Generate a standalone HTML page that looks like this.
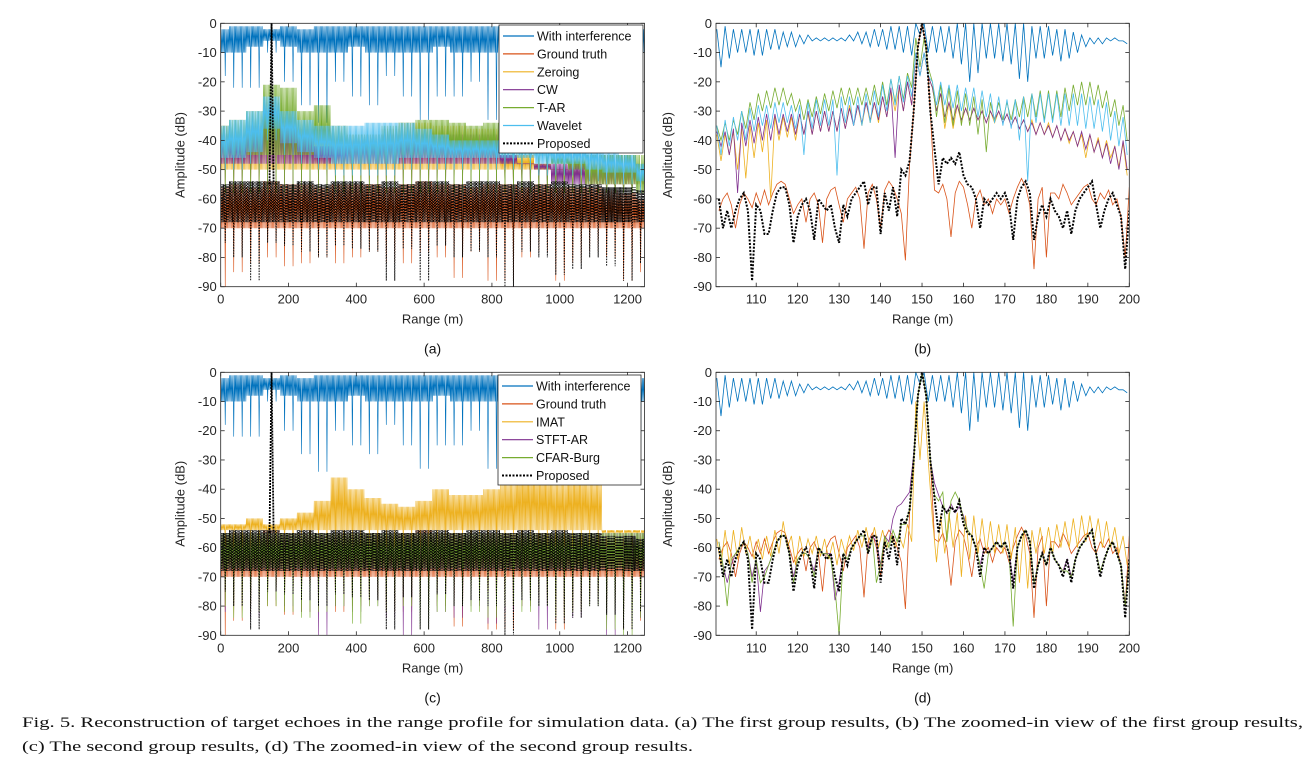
<!DOCTYPE html>
<html><head><meta charset="utf-8"><style>
html,body{margin:0;padding:0;background:#fff;}
svg{display:block;font-family:"Liberation Sans",sans-serif;}
</style></head><body>
<svg id="fig" width="1310" height="780" viewBox="0 0 1310 780" xmlns="http://www.w3.org/2000/svg">
<defs>
<clipPath id="clipA"><rect x="220.7" y="23.3" width="423.8" height="263.4"/></clipPath>
<clipPath id="clipB"><rect x="716" y="23.3" width="413.3" height="263.4"/></clipPath>
<clipPath id="clipC"><rect x="220.7" y="372.3" width="423.8" height="263"/></clipPath>
<clipPath id="clipD"><rect x="716" y="372.3" width="413.3" height="263"/></clipPath>
</defs>
<text x="22" y="727" font-family="Liberation Serif, serif" font-size="14.5" fill="#111" textLength="1281" lengthAdjust="spacingAndGlyphs">Fig. 5.  Reconstruction of target echoes in the range profile for simulation data. (a) The first group results, (b) The zoomed-in view of the first group results,</text>
<text x="22" y="751" font-family="Liberation Serif, serif" font-size="14.5" fill="#111" textLength="671" lengthAdjust="spacingAndGlyphs">(c) The second group results, (d) The zoomed-in view of the second group results.</text>
</svg>
<script>
// ---------- data: wide panels (bins every 50 m) ----------
const binsWide = [0,50,100,150,200,250,300,350,400,450,500,550,600,650,700,750,800,850,900,950,1000,1050,1100,1150,1200,1250];
const intHi = [-2,-1,-1,-2,-1,-2,-1,-1,-1,-1,-1,-1,-1,-1,-1,-1,-1,-1,-1,-1,-1,-1,-1,-1,-1,-2];
const intMid = [-10,-10,-8,-6,-8,-10,-10,-10,-8,-10,-10,-10,-10,-8,-10,-10,-10,-8,-8,-8,-8,-8,-8,-8,-8,-10];
const intLo = [-18,-22,-22,-10,-20,-28,-34,-20,-25,-28,-18,-25,-33,-25,-25,-20,-33,-15,-12,-12,-15,-15,-15,-15,-15,-38];
const gtHi = [-56,-55,-56,-54,-55,-55,-56,-55,-55,-55,-56,-55,-54,-55,-55,-56,-55,-55,-56,-55,-56,-56,-56,-57,-58,-60];
const gtMid = [-70,-70,-70,-70,-70,-70,-70,-70,-70,-70,-70,-70,-70,-70,-70,-70,-70,-70,-70,-70,-70,-70,-70,-70,-70,-70];
const gtLo = [-90,-85,-82,-80,-83,-82,-80,-82,-80,-78,-82,-82,-78,-80,-87,-78,-88,-88,-80,-78,-88,-82,-78,-80,-88,-85];
const propHi = [-55,-54,-54,-54,-55,-54,-55,-54,-54,-55,-54,-55,-54,-54,-55,-54,-54,-55,-54,-55,-54,-55,-55,-56,-56,-57];
const propMid = [-68,-68,-68,-68,-68,-68,-68,-68,-68,-68,-68,-68,-68,-68,-68,-68,-68,-68,-68,-68,-68,-68,-68,-68,-68,-68];
const propLo = [-75,-80,-88,-75,-76,-78,-80,-76,-77,-78,-88,-77,-88,-76,-80,-78,-80,-90,-78,-80,-86,-84,-80,-83,-88,-82];
const zerHi = [-35,-38,-36,-27,-32,-36,-40,-40,-38,-38,-36,-34,-34,-35,-35,-36,-36,-45,-45,-48,-50,-52,-55,-55,-55,-55];
const cwHi = [-38,-40,-35,-30,-35,-38,-42,-42,-40,-40,-38,-38,-38,-38,-38,-38,-38,-45,-48,-50,-55,-55,-55,-55,-55,-55];
const tarHi = [-35,-33,-30,-21,-22,-30,-28,-35,-38,-38,-35,-34,-33,-33,-34,-35,-34,-40,-42,-45,-48,-50,-55,-55,-55,-58];
const wavHi = [-35,-33,-30,-25,-30,-33,-35,-35,-35,-34,-34,-34,-36,-38,-40,-40,-40,-40,-40,-40,-42,-42,-42,-44,-45,-48];
const wavLo = [-50,-50,-48,-40,-45,-48,-50,-52,-52,-52,-52,-50,-50,-50,-50,-50,-50,-50,-50,-52,-52,-52,-54,-55,-55,-58];
const imatHi = [-52,-52,-50,-52,-50,-48,-44,-36,-40,-43,-45,-46,-44,-40,-42,-42,-40,-38,-35,-36,-38,-36,-38,-55,-55,-55];
const stftLo = [-82,-80,-84,-78,-80,-82,-90,-80,-82,-80,-84,-90,-80,-82,-84,-80,-86,-82,-80,-88,-82,-84,-80,-90,-86,-84];
const cfarLo = [-80,-84,-82,-80,-82,-84,-82,-80,-86,-80,-82,-80,-88,-82,-80,-82,-84,-80,-82,-80,-84,-82,-80,-88,-90,-84];
const peakRange = 150;
const peakDb = 0;

// ---------- data: zoomed panels ----------
const binsZoom = [101,103,105,107,109,111,113,115,117,119,121,123,125,127,129,131,133,135,137,139,141,143,145,147,149,151,153,155,157,159,161,163,165,167,169,171,173,175,177,179,181,183,185,187,189,191,193,195,197,199];
const zIntHi = [-2,-1,-2,-2,-2,-2,-2,-2,-3,-3,-4,-4,-5,-5,-5,-5,-4,-3,-3,-2,-2,-1,-1,-1,0,0,-1,-1,-1,0,0,0,0,0,0,0,0,0,-1,-1,-1,-2,-2,-3,-4,-5,-5,-5,-5,-6];
const zIntLo = [-15,-12,-10,-10,-11,-11,-9,-9,-8,-8,-7,-6,-6,-6,-6,-6,-6,-7,-8,-8,-9,-9,-10,-11,-4,-10,-10,-10,-12,-14,-20,-17,-12,-12,-13,-14,-19,-20,-12,-12,-11,-13,-12,-10,-8,-7,-7,-6,-6,-7];
const zTarHi = [-35,-34,-33,-30,-27,-24,-23,-22,-22,-24,-26,-26,-25,-24,-23,-22,-22,-22,-22,-21,-20,-19,-18,-17,-5,-5,-20,-21,-22,-23,-24,-25,-26,-27,-27,-27,-26,-25,-24,-23,-23,-23,-22,-21,-20,-20,-21,-23,-26,-28];
const zTarLo = [-40,-40,-38,-36,-33,-30,-29,-28,-28,-30,-33,-32,-31,-30,-29,-28,-28,-28,-28,-28,-28,-27,-26,-22,-15,-15,-32,-34,-35,-35,-35,-38,-44,-33,-33,-33,-32,-32,-32,-33,-33,-32,-30,-28,-28,-28,-29,-32,-35,-40];
const zWavHi = [-35,-33,-32,-30,-29,-28,-28,-27,-27,-28,-28,-27,-26,-26,-26,-25,-25,-25,-24,-23,-21,-19,-18,-18,-10,-10,-20,-20,-21,-21,-22,-22,-23,-24,-25,-26,-26,-25,-24,-24,-24,-24,-24,-24,-24,-25,-26,-27,-30,-32];
const zWavLo = [-45,-42,-40,-40,-37,-35,-36,-34,-34,-36,-45,-36,-35,-35,-52,-34,-35,-35,-34,-32,-30,-28,-27,-25,-18,-18,-28,-28,-29,-30,-30,-32,-32,-34,-35,-36,-40,-54,-34,-34,-34,-35,-35,-35,-36,-36,-37,-40,-42,-45];
const zCwHi = [-37,-37,-36,-34,-33,-32,-31,-31,-31,-31,-31,-30,-30,-30,-30,-29,-29,-28,-27,-27,-25,-22,-21,-20,-10,-10,-22,-24,-27,-28,-29,-29,-30,-30,-30,-31,-32,-33,-34,-34,-35,-35,-36,-37,-37,-38,-40,-41,-42,-40];
const zCwLo = [-42,-45,-58,-42,-41,-40,-40,-38,-37,-38,-38,-38,-37,-37,-37,-36,-35,-34,-33,-33,-32,-46,-30,-28,-18,-18,-30,-32,-33,-33,-33,-33,-34,-33,-34,-35,-36,-37,-38,-38,-39,-40,-40,-42,-43,-44,-46,-48,-50,-50];
const zZerHi = [-38,-38,-37,-36,-35,-34,-33,-32,-32,-32,-31,-31,-30,-30,-30,-29,-28,-28,-27,-27,-25,-23,-22,-20,-10,-10,-22,-24,-27,-28,-29,-29,-30,-30,-30,-31,-32,-33,-33,-34,-34,-35,-36,-37,-38,-38,-39,-40,-42,-41];
const zZerLo = [-47,-45,-50,-53,-46,-44,-60,-40,-39,-40,-38,-38,-37,-37,-37,-36,-35,-35,-34,-34,-32,-30,-30,-28,-18,-18,-30,-36,-36,-34,-33,-33,-34,-34,-34,-35,-36,-37,-38,-38,-39,-40,-41,-42,-46,-44,-46,-46,-49,-52];
const zImatHi = [-57,-54,-54,-53,-56,-57,-56,-54,-51,-56,-56,-57,-56,-57,-58,-57,-56,-54,-53,-53,-54,-56,-56,-52,-10,-10,-50,-49,-48,-48,-49,-49,-50,-51,-52,-52,-53,-54,-54,-53,-53,-52,-51,-50,-49,-49,-50,-51,-53,-56];
const zImatLo = [-66,-66,-64,-62,-64,-64,-63,-62,-60,-66,-63,-62,-63,-64,-66,-62,-61,-60,-60,-60,-60,-60,-60,-58,-30,-30,-65,-62,-60,-70,-64,-62,-62,-62,-62,-64,-72,-74,-62,-62,-62,-60,-60,-60,-58,-58,-60,-60,-62,-66];
const rangeFine = [101,102,103,104,105,106,107,108,109,110,111,112,113,114,115,116,117,118,119,120,121,122,123,124,125,126,127,128,129,130,131,132,133,134,135,136,137,138,139,140,141,142,143,144,145,146,147,148,149,150,151,152,153,154,155,156,157,158,159,160,161,162,163,164,165,166,167,168,169,170,171,172,173,174,175,176,177,178,179,180,181,182,183,184,185,186,187,188,189,190,191,192,193,194,195,196,197,198,199,200];
const zGt = [-64,-60,-58,-62,-70,-62,-58,-60,-63,-58,-62,-57,-62,-58,-55,-54,-55,-60,-65,-62,-60,-68,-60,-58,-62,-75,-60,-57,-56,-62,-68,-60,-58,-56,-60,-77,-58,-55,-60,-70,-57,-54,-56,-60,-65,-81,-48,-30,-8,0,-8,-30,-57,-58,-55,-60,-73,-58,-54,-56,-62,-70,-60,-57,-62,-60,-65,-60,-62,-60,-65,-60,-56,-53,-56,-62,-84,-60,-56,-80,-58,-58,-60,-55,-58,-62,-60,-58,-56,-55,-60,-62,-58,-60,-57,-62,-60,-66,-80,-56];
const zProp = [-60,-70,-64,-70,-64,-60,-58,-64,-88,-62,-64,-72,-72,-64,-58,-56,-56,-62,-75,-66,-62,-60,-64,-74,-60,-62,-64,-62,-70,-75,-62,-66,-60,-58,-56,-54,-62,-56,-56,-72,-58,-64,-56,-66,-50,-52,-47,-30,-8,0,-8,-30,-43,-55,-46,-48,-46,-48,-44,-52,-55,-56,-60,-70,-60,-62,-60,-58,-60,-58,-62,-74,-60,-56,-54,-58,-74,-66,-62,-66,-60,-64,-66,-70,-64,-72,-64,-60,-58,-56,-54,-62,-70,-64,-60,-58,-62,-66,-84,-64];
const zStft = [-58,-66,-72,-66,-62,-60,-58,-62,-70,-64,-82,-68,-66,-62,-58,-56,-56,-62,-70,-64,-62,-62,-64,-68,-60,-62,-62,-62,-78,-72,-62,-64,-60,-58,-56,-56,-60,-56,-58,-66,-56,-58,-50,-46,-45,-43,-41,-28,-8,0,-8,-30,-38,-42,-46,-48,-45,-48,-46,-49,-54,-56,-60,-66,-60,-62,-60,-58,-60,-58,-62,-72,-60,-56,-54,-58,-72,-66,-62,-66,-60,-64,-66,-68,-64,-70,-64,-60,-58,-56,-54,-62,-68,-64,-60,-58,-62,-66,-80,-64];
const zCfar = [-58,-66,-80,-64,-62,-60,-58,-62,-72,-64,-72,-70,-66,-62,-58,-56,-56,-62,-72,-64,-62,-62,-64,-70,-60,-62,-62,-64,-74,-90,-62,-64,-60,-58,-56,-56,-62,-56,-72,-66,-56,-60,-54,-58,-52,-52,-47,-30,-8,0,-8,-30,-42,-44,-41,-58,-44,-41,-44,-50,-54,-56,-60,-66,-74,-62,-60,-58,-60,-58,-62,-87,-60,-56,-54,-58,-72,-66,-62,-66,-60,-64,-66,-68,-68,-70,-64,-60,-58,-56,-54,-62,-68,-64,-60,-58,-62,-66,-80,-64];

const xticksWide = [0,200,400,600,800,1000,1200];
const xticksZoom = [110,120,130,140,150,160,170,180,190,200];
const yticks = [0,-10,-20,-30,-40,-50,-60,-70,-80,-90];
const legendA = ["With interference","Ground truth","Zeroing","CW","T-AR","Wavelet","Proposed"];
const legendC = ["With interference","Ground truth","IMAT","STFT-AR","CFAR-Burg","Proposed"];

const BLUE="#0072BD",ORANGE="#D95319",YEL="#EDB120",PURP="#7E2F8E",GREEN="#77AC30",LBLUE="#4DBEEE";
const NS="http://www.w3.org/2000/svg";
const svg=document.getElementById('fig');
function mk(tag,attrs,parent){const e=document.createElementNS(NS,tag);for(const k in attrs)e.setAttribute(k,attrs[k]);(parent||svg).appendChild(e);return e;}
function fill(n,v){return binsWide.map(()=>v);}

function makeAxes(p){
  p.sx=v=>p.x0+(v-p.xmin)/(p.xmax-p.xmin)*(p.x1-p.x0);
  p.sy=v=>p.y0+(0-v)/90*(p.y1-p.y0);
  const g=mk('g',{});
  
  
  p.g=g;
  const plot=mk('g',{'clip-path':'url(#'+p.clip+')'},g);
  
  
  p.plot=plot;
  return p;
}
function finishAxes(p){
  const g=p.g;
  const box=mk('rect',{x:p.x0,y:p.y0,width:p.x1-p.x0,height:p.y1-p.y0,fill:'none',stroke:'#262626','stroke-width':0.8},g);
  
  
  p.xticks.forEach(t=>{
    const x=p.sx(t);
    mk('line',{x1:x,x2:x,y1:p.y1,y2:p.y1-4,stroke:'#262626','stroke-width':0.8},g);
    mk('line',{x1:x,x2:x,y1:p.y0,y2:p.y0+4,stroke:'#262626','stroke-width':0.8},g);
    const tx=mk('text',{x:x,y:p.y1+17,'font-size':13,'text-anchor':'middle',fill:'#262626'},g);
    tx.textContent=t;
    
    
  });
  yticks.forEach(t=>{
    const y=p.sy(t);
    mk('line',{x1:p.x0,x2:p.x0+4,y1:y,y2:y,stroke:'#262626','stroke-width':0.8},g);
    mk('line',{x1:p.x1,x2:p.x1-4,y1:y,y2:y,stroke:'#262626','stroke-width':0.8},g);
    const tx=mk('text',{x:p.x0-4,y:y+4.5,'font-size':13,'text-anchor':'end',fill:'#262626'},g);
    tx.textContent=t;
    
    
  });
  const xl=mk('text',{x:(p.x0+p.x1)/2,y:p.y1+37,'font-size':13,'text-anchor':'middle',fill:'#262626'},g);
  xl.textContent='Range (m)';
  
  
  const yx=p.x0-(p.zoom?44:36), yy=(p.y0+p.y1)/2;
  const yl=mk('text',{x:yx,y:yy,'font-size':13,'text-anchor':'middle',fill:'#262626',transform:'rotate(-90 '+yx+' '+yy+')'},g);
  yl.textContent='Amplitude (dB)';
  
  
  const sl=mk('text',{x:(p.x0+p.x1)/2,y:p.y1+67,'font-size':14,'text-anchor':'middle',fill:'#111'},g);
  sl.textContent=p.label;
  
  
}
function band(p,name,hi,mid,lo,color,dash,w){
  const pts=[];const n=28;
  binsWide.forEach((b,i)=>{
    for(let k=0;k<n;k++){
      const r=b-25+(k+0.5)*50/n;
      const v=(k%2===0)?hi[i]:((k===7||k===21)?lo[i]:mid[i]);
      pts.push(p.sx(r).toFixed(2)+','+p.sy(v).toFixed(1));
    }
  });
  const a={points:pts.join(' '),fill:'none',stroke:color,'stroke-width':w||0.6};
  if(dash)a['stroke-dasharray']=dash;
  const e=mk('polyline',a,p.plot);
  
  
}
function spike(p,name,color,dash,base){
  const a={points:[p.sx(peakRange-6)+','+p.sy(base),p.sx(peakRange)+','+p.sy(peakDb),p.sx(peakRange+6)+','+p.sy(base)].join(' '),fill:'none',stroke:color,'stroke-width':dash?1.8:1};
  if(dash)a['stroke-dasharray']=dash;
  const e=mk('polyline',a,p.plot);
  
  
}
function env(p,name,hi,lo,color){
  const pts=[];
  binsZoom.forEach((c,i)=>{
    pts.push(p.sx(c-0.5).toFixed(1)+','+p.sy(hi[i]).toFixed(1));
    pts.push(p.sx(c+0.5).toFixed(1)+','+p.sy(lo[i]).toFixed(1));
  });
  const e=mk('polyline',{points:pts.join(' '),fill:'none',stroke:color,'stroke-width':0.8},p.plot);
  
  
}
function line(p,name,vals,color,dash,w){
  const pts=rangeFine.map((r,i)=>p.sx(r).toFixed(1)+','+p.sy(vals[i]).toFixed(1));
  const a={points:pts.join(' '),fill:'none',stroke:color,'stroke-width':w||0.8};
  if(dash)a['stroke-dasharray']=dash;
  const e=mk('polyline',a,p.plot);
  
  
}
function legend(x,y,w,labels,colors,name){
  const g=mk('g',{});
  
  
  const h=labels.length*18+2;
  mk('rect',{x:x,y:y,width:w,height:h,fill:'#fff',stroke:'#262626','stroke-width':0.8},g);
  labels.forEach((l,i)=>{
    const yy=y+11+i*17.9;
    const a={x1:x+4,x2:x+35,y1:yy,y2:yy,stroke:colors[i],'stroke-width':l==='Proposed'?2:1.2};
    if(l==='Proposed')a['stroke-dasharray']='2,1.5';
    mk('line',a,g);
    const t=mk('text',{x:x+38,y:yy+4.5,'font-size':12.5,fill:'#111'},g);
    t.textContent=l;
    
    
  });
}

// Panel (a)
const A=makeAxes({name:'panel-a',clip:'clipA',x0:220.7,x1:644.5,y0:23.3,y1:286.7,xmin:0,xmax:1250,xticks:xticksWide,label:'(a)'});
band(A,'series-with-interference',intHi,intMid,intLo,BLUE);
band(A,'series-ground-truth',gtHi,gtMid,gtLo,ORANGE);
band(A,'series-zeroing',zerHi,fill(0,-50),fill(0,-56),YEL);
band(A,'series-cw',cwHi,fill(0,-48),fill(0,-56),PURP);
band(A,'series-t-ar',tarHi,fill(0,-45),fill(0,-58),GREEN);
band(A,'series-wavelet',wavHi,wavLo.map(v=>v+4),wavLo,LBLUE);
band(A,'series-proposed',propHi,propMid,propLo,'#000','1.5,1.2',0.9);
spike(A,'series-proposed-peak','#000','2,1',-55);
finishAxes(A);
legend(499,25,144,legendA,[BLUE,ORANGE,YEL,PURP,GREEN,LBLUE,'#000'],'legend-a');

// Panel (b)
const B=makeAxes({name:'panel-b',clip:'clipB',x0:716,x1:1129.3,y0:23.3,y1:286.7,xmin:100.3,xmax:200,xticks:xticksZoom,label:'(b)',zoom:true});
env(B,'series-with-interference',zIntHi,zIntLo,BLUE);
line(B,'series-ground-truth',zGt,ORANGE);
env(B,'series-zeroing',zZerHi,zZerLo,YEL);
env(B,'series-cw',zCwHi,zCwLo,PURP);
env(B,'series-t-ar',zTarHi,zTarLo,GREEN);
env(B,'series-wavelet',zWavHi,zWavLo,LBLUE);
line(B,'series-proposed',zProp,'#000','2,1.5',2);
finishAxes(B);

// Panel (c)
const C=makeAxes({name:'panel-c',clip:'clipC',x0:220.7,x1:644.5,y0:372.3,y1:635.3,xmin:0,xmax:1250,xticks:xticksWide,label:'(c)'});
band(C,'series-with-interference',intHi,intMid,intLo,BLUE);
band(C,'series-ground-truth',gtHi,gtMid,gtLo,ORANGE);
band(C,'series-imat',imatHi,fill(0,-54),fill(0,-60),YEL);
band(C,'series-stft-ar',fill(0,-55),fill(0,-67),stftLo,PURP);
band(C,'series-cfar-burg',fill(0,-55),fill(0,-67),cfarLo,GREEN);
band(C,'series-proposed',propHi,propMid,propLo,'#000','1.5,1.2',0.9);
spike(C,'series-proposed-peak','#000','2,1',-55);
finishAxes(C);
legend(498,375,143,legendC,[BLUE,ORANGE,YEL,PURP,GREEN,'#000'],'legend-c');

// Panel (d)
const D=makeAxes({name:'panel-d',clip:'clipD',x0:716,x1:1129.3,y0:372.3,y1:635.3,xmin:100.3,xmax:200,xticks:xticksZoom,label:'(d)',zoom:true});
env(D,'series-with-interference',zIntHi,zIntLo,BLUE);
line(D,'series-ground-truth',zGt,ORANGE);
env(D,'series-imat',zImatHi,zImatLo,YEL);
line(D,'series-stft-ar',zStft,PURP);
line(D,'series-cfar-burg',zCfar,GREEN);
line(D,'series-proposed',zProp,'#000','2,1.5',2);
finishAxes(D);
</script>
</body></html>
